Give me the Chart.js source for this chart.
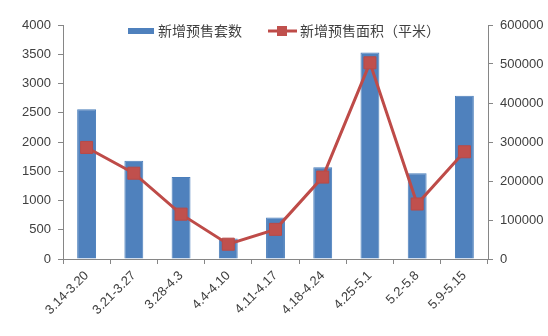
<!DOCTYPE html>
<html>
<head>
<meta charset="utf-8">
<script src="https://cdn.jsdelivr.net/npm/chart.js@4"></script>
<style>
  html, body { margin: 0; padding: 0; background: #fff; }
  #wrap { width: 548px; height: 336px; position: relative; }
</style>
</head>
<body>
<div id="wrap"><canvas id="salesChart"></canvas></div>
<script>
const categories = ['3.14-3.20', '3.21-3.27', '3.28-4.3', '4.4-4.10', '4.11-4.17', '4.18-4.24', '4.25-5.1', '5.2-5.8', '5.9-5.15'];
const unitsSold = [2560, 1680, 1400, 350, 710, 1570, 3530, 1465, 2790];
const areaSold = [286000, 220000, 115000, 38000, 76000, 210000, 503000, 141000, 275000];
const leftTicks = { max: 4000, step: 500 };
const rightTicks = { max: 600000, step: 100000 };

const barColor = '#4F81BD';
const lineColor = '#BE4B48';
const axisColor = '#868686';
const textColor = '#404040';
const numFont = { family: 'Liberation Sans', size: 13 };

// legend drawn inside the plot area, like the Excel original
const innerLegend = {
  id: 'innerLegend',
  afterDraw(chart) {
    const ctx = chart.ctx;
    const y = 31;
    ctx.save();
    ctx.font = '14px "Noto Sans CJK SC"';
    ctx.textBaseline = 'middle';

    // bar item
    ctx.fillStyle = barColor;
    ctx.fillRect(128, y - 3, 26, 6);
    ctx.fillStyle = textColor;
    ctx.fillText(chart.data.datasets[0].label, 158, y);

    // line item
    ctx.strokeStyle = lineColor;
    ctx.lineWidth = 3;
    ctx.beginPath();
    ctx.moveTo(268, y);
    ctx.lineTo(297, y);
    ctx.stroke();
    ctx.fillStyle = '#C0504D';
    ctx.fillRect(277, y - 5, 10, 10);
    ctx.fillStyle = textColor;
    ctx.fillText(chart.data.datasets[1].label, 300, y);
    ctx.restore();
  }
};

const plain = v => String(v);

const ctx = document.getElementById('salesChart').getContext('2d');
new Chart(ctx, {
  type: 'bar',
  data: {
    labels: categories,
    datasets: [
      {
        type: 'bar',
        label: '新增预售套数',
        data: unitsSold,
        backgroundColor: barColor,
        borderColor: '#4A7EBB',
        borderWidth: 1,
        barPercentage: 0.4,
        categoryPercentage: 1,
        yAxisID: 'y',
        order: 2
      },
      {
        type: 'line',
        label: '新增预售面积（平米）',
        data: areaSold,
        borderColor: lineColor,
        borderWidth: 3,
        backgroundColor: '#C0504D',
        pointStyle: 'rect',
        pointRadius: 8.5,
        pointBorderColor: '#B94A47',
        pointBorderWidth: 1,
        tension: 0,
        yAxisID: 'y1',
        order: 1
      }
    ]
  },
  options: {
    responsive: true,
    maintainAspectRatio: false,
    animation: false,
    layout: { padding: { top: 25, left: 0, right: 0, bottom: 0 } },
    plugins: {
      legend: { display: false },
      tooltip: { enabled: false }
    },
    scales: {
      x: {
        offset: true,
        grid: { offset: true, drawOnChartArea: false, drawTicks: true, tickLength: 5, color: axisColor },
        border: { color: axisColor },
        ticks: { color: textColor, font: numFont, minRotation: 45, maxRotation: 45, padding: 4, autoSkip: false },
        afterFit(scale) { scale.height = 77; }
      },
      y: {
        position: 'left',
        min: 0,
        max: leftTicks.max,
        grid: { drawOnChartArea: false, drawTicks: true, tickLength: 5, color: axisColor },
        border: { color: axisColor },
        ticks: { stepSize: leftTicks.step, color: textColor, font: numFont, padding: 7, callback: plain },
        afterFit(scale) { scale.width = 63; }
      },
      y1: {
        position: 'right',
        min: 0,
        max: rightTicks.max,
        grid: { drawOnChartArea: false, drawTicks: true, tickLength: 5, color: axisColor },
        border: { color: axisColor },
        ticks: { stepSize: rightTicks.step, color: textColor, font: numFont, padding: 7, callback: plain },
        afterFit(scale) { scale.width = 60; }
      }
    }
  },
  plugins: [innerLegend]
});
</script>
</body>
</html>
